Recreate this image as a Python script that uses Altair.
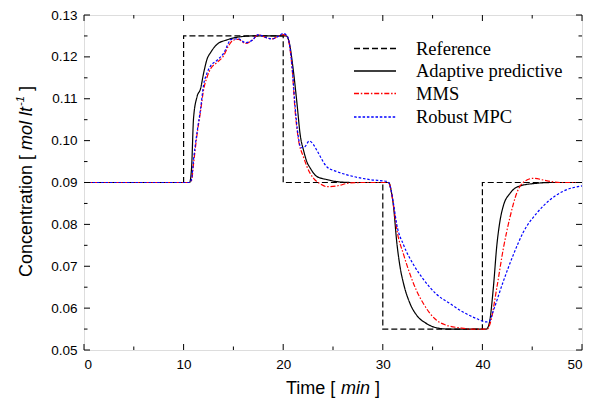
import altair as alt
import pandas as pd

SERIES = ["Reference", "Adaptive predictive", "MMS", "Robust MPC"]
COLORS = ["#000000", "#000000", "#ff0000", "#0000ff"]
DASHES = [[6, 3], [1, 0], [5, 1.8, 1.5, 1.8], [2.5, 1.8]]

# Reference set-point (step changes)
ref_t = [0, 10, 20, 30, 40, 50]
ref_c = [0.09, 0.125, 0.09, 0.055, 0.09, 0.09]

adp_t = [0, 10.6, 10.8, 11.0, 11.35, 11.7, 12.0, 12.36, 12.7, 13.36, 14.4, 15.4, 17, 19, 20.3,
         20.6, 21.0, 21.4, 21.7, 22.05, 22.4, 22.7, 23.4, 24.4, 25.4, 27, 30.6, 30.8, 31.07,
         31.4, 31.75, 32.1, 32.75, 33.4, 34.4, 35.4, 36.5, 40.4, 40.7, 41.1, 41.45, 41.8, 42.1,
         42.8, 43.8, 45.4, 47, 50]
adp_c = [0.09, 0.09, 0.0935, 0.1054, 0.1105, 0.1124, 0.116, 0.1195, 0.121, 0.123, 0.1241, 0.1247,
         0.125, 0.125, 0.125, 0.1235, 0.1171, 0.1085, 0.1015, 0.0976, 0.0948, 0.0935, 0.0914,
         0.0907, 0.0902, 0.090, 0.090, 0.0885, 0.0844, 0.0758, 0.0696, 0.0657, 0.061, 0.0583,
         0.0563, 0.0553, 0.0550, 0.0550, 0.0565, 0.0649, 0.075, 0.0813, 0.0844, 0.0875, 0.0892,
         0.0898, 0.090, 0.090]

mms_t = [0, 10.6, 10.8, 11.0, 11.35, 11.7, 12.0, 12.36, 12.7, 13.36, 14.0, 14.5, 15.0, 15.5,
         16.2, 16.9, 17.5, 18.4, 18.9, 19.4, 20.0, 20.4, 20.9, 21.2, 21.5, 22.05, 22.7, 23.05,
         23.7, 24.4, 25.4, 26.7, 28, 30.6, 30.8, 31.07, 31.4, 32.1, 32.75, 33.4, 34.1, 34.75,
         35.4, 36.4, 37.7, 38.8, 40.5, 40.8, 41.45, 42.1, 42.8, 43.45, 44.1, 45.1, 46.5, 47.8, 50]
mms_c = [0.09, 0.09, 0.0905, 0.0945, 0.1015, 0.107, 0.112, 0.1152, 0.1171, 0.1187, 0.1202,
         0.1226, 0.124, 0.1242, 0.1232, 0.124, 0.1253, 0.1245, 0.1243, 0.1248, 0.1253, 0.1248,
         0.1171, 0.107, 0.1007, 0.096, 0.0922, 0.091, 0.0897, 0.089, 0.0892, 0.0899, 0.090,
         0.090, 0.0885, 0.0846, 0.0789, 0.0727, 0.068, 0.0641, 0.061, 0.0587, 0.0571, 0.0559,
         0.0553, 0.0550, 0.0550, 0.0565, 0.0649, 0.0742, 0.082, 0.0875, 0.090, 0.091, 0.0904,
         0.090, 0.090]

rob_t = [0, 10.6, 10.8, 11.0, 11.35, 11.7, 12.0, 12.36, 12.7, 13.36, 14.0, 14.8, 15.5, 16.2,
         16.9, 17.5, 18.4, 18.9, 19.5, 20.0, 20.4, 20.9, 21.2, 21.5, 21.8, 22.2, 22.6, 23.0,
         23.4, 24.4, 25.4, 27.1, 28.7, 30.5, 30.8, 31.07, 31.4, 32.1, 33.1, 34.1, 35.4, 36.8,
         38.1, 39.4, 40.4, 40.7, 41.1, 42.1, 43.1, 44.1, 45.5, 46.8, 48.1, 50]
rob_c = [0.09, 0.09, 0.0908, 0.0955, 0.102, 0.1075, 0.1132, 0.1162, 0.1178, 0.1192, 0.1208,
         0.1242, 0.1243, 0.1234, 0.124, 0.1253, 0.1245, 0.1243, 0.1249, 0.1256, 0.1250, 0.1175,
         0.108, 0.1012, 0.0983, 0.0986, 0.0999, 0.0992, 0.0976, 0.0937, 0.0926, 0.0914, 0.0907,
         0.0902, 0.0885, 0.0850, 0.080, 0.075, 0.0703, 0.0668, 0.0633, 0.061, 0.059, 0.0575,
         0.0567, 0.0569, 0.0594, 0.0664, 0.0727, 0.0781, 0.0828, 0.0859, 0.0879, 0.0892]

x_major = [0, 10, 20, 30, 40, 50]
x_minor = [5, 15, 25, 35, 45]
y_major = [0.05, 0.06, 0.07, 0.08, 0.09, 0.10, 0.11, 0.12, 0.13]
y_minor = [0.055, 0.065, 0.075, 0.085, 0.095, 0.105, 0.115, 0.125]

TOP = 7
W, H = 498, 335
FONT = "Liberation Sans"
SERIF = "Liberation Serif"

ref_df = pd.DataFrame({"t": ref_t, "c": ref_c, "s": SERIES[0]})
one = pd.DataFrame({"k": [0]})
curves = pd.concat([
    pd.DataFrame({"t": adp_t, "c": adp_c, "s": SERIES[1]}),
    pd.DataFrame({"t": mms_t, "c": mms_c, "s": SERIES[2]}),
    pd.DataFrame({"t": rob_t, "c": rob_c, "s": SERIES[3]}),
])

xs = alt.Scale(domain=[0, 50], nice=False, zero=False)
ys = alt.Scale(domain=[0.05, 0.13], nice=False, zero=False)
col = alt.Color("s:N", scale=alt.Scale(domain=SERIES, range=COLORS), legend=None)
dash = alt.StrokeDash("s:N", scale=alt.Scale(domain=SERIES, range=DASHES), legend=None)

xaxis = alt.Axis(values=x_major, format="d", title=None, grid=False, ticks=False, tickSize=0,
                 domain=False, labelFont=FONT, labelFontSize=13.5, labelColor="black",
                 labelPadding=7)
yaxis = alt.Axis(values=y_major, format=".2f", title=None, grid=False, ticks=False, tickSize=0,
                 domain=False, labelFont=FONT, labelFontSize=13.5, labelColor="black",
                 labelPadding=7)

ref_line = alt.Chart(ref_df).mark_line(interpolate="step-after", strokeWidth=1.2).encode(
    x=alt.X("t:Q", scale=xs, axis=xaxis),
    y=alt.Y("c:Q", scale=ys, axis=yaxis),
    color=col, strokeDash=dash,
)

lines = alt.Chart(curves).mark_line(interpolate="monotone", strokeWidth=1.2, clip=True).encode(
    x=alt.X("t:Q", scale=xs),
    y=alt.Y("c:Q", scale=ys),
    color=col, strokeDash=dash, detail="s:N",
)

# inward ticks on all four sides
xmaj = pd.DataFrame({"t": x_major})
xmin = pd.DataFrame({"t": x_minor})
ymaj = pd.DataFrame({"c": y_major})
ymin = pd.DataFrame({"c": y_minor})
tick_layers = []
for df, L in [(xmaj, 6), (xmin, 3.5)]:
    tick_layers.append(alt.Chart(df).mark_rule(color="black", strokeWidth=1).encode(
        x=alt.X("t:Q", scale=xs), y=alt.value(H), y2=alt.value(H - L)))
    tick_layers.append(alt.Chart(df).mark_rule(color="black", strokeWidth=1).encode(
        x=alt.X("t:Q", scale=xs), y=alt.value(0), y2=alt.value(L)))
for df, L in [(ymaj, 6), (ymin, 3.5)]:
    tick_layers.append(alt.Chart(df).mark_rule(color="black", strokeWidth=1).encode(
        y=alt.Y("c:Q", scale=ys), x=alt.value(0), x2=alt.value(L)))
    tick_layers.append(alt.Chart(df).mark_rule(color="black", strokeWidth=1).encode(
        y=alt.Y("c:Q", scale=ys), x=alt.value(W), x2=alt.value(W - L)))

# legend
leg_y = [33.5, 56, 78.5, 102]
legend_layers = []
for name, colr, d, yy in zip(SERIES, COLORS, DASHES, leg_y):
    legend_layers.append(alt.Chart(one).mark_rule(stroke=colr, color=colr, strokeDash=d,
                                                  strokeWidth=1.3).encode(
        x=alt.value(270), x2=alt.value(312), y=alt.value(yy)))
    legend_layers.append(alt.Chart(one).mark_text(
        text=name, font=SERIF, fontSize=18.5, fontWeight="normal", align="left",
        baseline="middle", color="black").encode(
        x=alt.value(332), y=alt.value(yy)))

# axis titles with italic parts
def txt(s, x, y, italic=False, size=18, angle=0, dx=0, dy=0):
    kw = dict(text=s, font=FONT, fontSize=size, fontWeight="normal", align="left",
              baseline="middle", color="black", dx=dx, dy=dy)
    if italic:
        kw["fontStyle"] = "italic"
    if angle:
        kw["angle"] = angle
    return alt.Chart(one).mark_text(**kw).encode(x=alt.value(x), y=alt.value(y))

XT_Y = 374
title_layers = [
    txt("Time [", 202, XT_Y),
    txt("min", 257, XT_Y, italic=True),
    txt("]", 291, XT_Y),
]
yb = 262
ty = -57
title_layers += [
    txt("Concentration [", ty, yb, angle=270),
    txt("mol lt", ty, yb - 127, italic=True, angle=270),
    txt("-1", ty - 6, yb - 171, italic=True, size=11, angle=270),
    txt("]", ty, yb - 186, angle=270),
]

chart = alt.layer(ref_line, lines, *tick_layers, *legend_layers, *title_layers).properties(
    width=W, height=H, autosize="none",
    padding={"left": 76, "top": TOP, "right": 15, "bottom": 407 - 16 - TOP - H},
).configure_view(stroke="black", strokeWidth=1.2).configure(background="white")

chart.save("out.html", embed_options={"renderer": "svg", "actions": False})
